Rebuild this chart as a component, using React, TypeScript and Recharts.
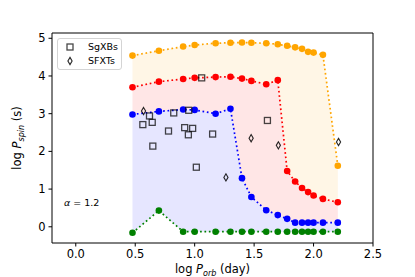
import React from "react";
import {
  ComposedChart,
  Area,
  Line,
  Scatter,
  XAxis,
  YAxis,
  ReferenceLine,
  Label,
} from "recharts";

// log of orbital period grid (days)
const logPorb = [
  0.477, 0.699, 0.903, 1.0, 1.176, 1.301, 1.398, 1.477, 1.602, 1.699, 1.778,
  1.845, 1.903, 1.954, 2.0, 2.079, 2.204,
];
const orangeSpin = [
  4.54, 4.67, 4.78, 4.82, 4.87, 4.88, 4.89, 4.88, 4.87, 4.84, 4.8, 4.76, 4.72,
  4.64, 4.62, 4.56, 1.62,
];
const redSpin = [
  3.7, 3.85, 3.92, 3.95, 3.97, 3.98, 3.93, 3.87, 3.78, 3.89, 1.48, 1.2, 1.03,
  0.92, 0.83, 0.74, 0.65,
];
const blueSpin = [
  2.98, 3.06, 3.11, 3.1, 3.0, 3.13, 1.29, 0.79, 0.44, 0.31, 0.21, 0.11, 0.11,
  0.11, 0.11, 0.11, 0.11,
];
const greenSpin = [
  -0.16, 0.43, -0.13, -0.13, -0.13, -0.13, -0.13, -0.13, -0.13, -0.13, -0.13,
  -0.13, -0.13, -0.13, -0.13, -0.13, -0.13,
];

// observed systems
const sgxbOrb = [0.564, 0.62, 0.643, 0.648, 0.78, 0.824, 0.916, 0.947, 0.95, 0.983, 1.014, 1.059, 1.151, 1.612];
const sgxbSpin = [2.71, 2.94, 2.77, 2.14, 2.54, 3.02, 2.63, 2.44, 3.09, 2.61, 1.58, 3.95, 2.46, 2.82];
const sfxtOrb = [0.57, 1.263, 1.475, 1.704, 2.21];
const sfxtSpin = [3.07, 1.31, 2.35, 2.16, 2.25];

const xTicks = [0, 0.5, 1, 1.5, 2, 2.5];
const yTicks = [0, 1, 2, 3, 4, 5];
const xDomain = [-0.2, 2.5];
const yDomain = [-0.43, 5.14];

const rows = logPorb.map((x, i) => ({
  x,
  orange: orangeSpin[i],
  red: redSpin[i],
  blue: blueSpin[i],
  green: greenSpin[i],
  bandOrange: [redSpin[i], orangeSpin[i]],
  bandRed: [blueSpin[i], redSpin[i]],
  bandBlue: [greenSpin[i], blueSpin[i]],
}));
const sgxbData = sgxbOrb.map((x, i) => ({ x, y: sgxbSpin[i] }));
const sfxtData = sfxtOrb.map((x, i) => ({ x, y: sfxtSpin[i] }));

const FONT = "DejaVu Sans";
const tickStyle = { fontSize: 11.5, fill: "#000", fontFamily: FONT };
const dotted = "1.7 2.7";

const Square = (p: any) => (
  <rect
    x={p.cx - 3}
    y={p.cy - 3}
    width={6}
    height={6}
    fill="none"
    stroke="#000"
    strokeOpacity={0.72}
    strokeWidth={1.3}
  />
);

const Diamond = (p: any) => (
  <path
    d={`M${p.cx},${p.cy - 3.6} L${p.cx + 2.1},${p.cy} L${p.cx},${p.cy + 3.6} L${p.cx - 2.1},${p.cy} Z`}
    fill="none"
    stroke="#000"
    strokeOpacity={0.85}
    strokeWidth={1.1}
  />
);

function LegendBox() {
  return (
    <div
      style={{
        position: "absolute",
        left: 57,
        top: 38,
        width: 63,
        height: 30,
        border: "1px solid #d4d4d4",
        borderRadius: 3,
        background: "rgba(255,255,255,0.8)",
        fontFamily: FONT,
        fontSize: 9.5,
        color: "#000",
      }}
    >
      <svg width={63} height={30} style={{ position: "absolute", left: 0, top: 0 }}>
        <Square cx={12} cy={8} />
        <Diamond cx={12} cy={22} />
      </svg>
      <span style={{ position: "absolute", left: 30, top: 2, lineHeight: "12px" }}>SgXBs</span>
      <span style={{ position: "absolute", left: 30, top: 16, lineHeight: "12px" }}>SFXTs</span>
    </div>
  );
}

export default function App() {
  return (
    <div style={{ position: "absolute", left: 0, top: 0, width: 415, height: 277 }}>
      <ComposedChart
        width={415}
        height={277}
        data={rows}
        margin={{ top: 33, right: 42, bottom: 0, left: 0 }}
      >
        <XAxis
          dataKey="x"
          type="number"
          domain={xDomain}
          ticks={xTicks}
          allowDataOverflow
          tickFormatter={(v: number) => v.toFixed(1)}
          tick={tickStyle}
          tickSize={3.5}
          tickMargin={3}
          height={34}
          stroke="#000"
        >
          <Label
            content={(props: any) => {
              const vb = props.viewBox;
              return (
                <text
                  x={vb.x + vb.width / 2}
                  y={273}
                  textAnchor="middle"
                  fontFamily={FONT}
                  fontSize={11.5}
                  fill="#000"
                >
                  log <tspan fontStyle="italic">P</tspan>
                  <tspan fontStyle="italic" fontSize={8} dy={2.5}>orb</tspan>
                  <tspan dy={-2.5}> (day)</tspan>
                </text>
              );
            }}
          />
        </XAxis>
        <YAxis
          type="number"
          domain={yDomain}
          ticks={yTicks}
          allowDataOverflow
          tick={tickStyle}
          tickSize={3.5}
          tickMargin={3}
          width={52}
          stroke="#000"
        >
          <Label
            content={(props: any) => {
              const vb = props.viewBox;
              const cy = vb.y + vb.height / 2;
              return (
                <text
                  x={21}
                  y={cy}
                  transform={`rotate(-90, 21, ${cy})`}
                  textAnchor="middle"
                  fontFamily={FONT}
                  fontSize={11.5}
                  fill="#000"
                >
                  log <tspan fontStyle="italic">P</tspan>
                  <tspan fontStyle="italic" fontSize={8} dy={2.5}>spin</tspan>
                  <tspan dy={-2.5}> (s)</tspan>
                </text>
              );
            }}
          />
        </YAxis>
        <ReferenceLine y={yDomain[1]} stroke="#000" ifOverflow="extendDomain" />
        <ReferenceLine x={xDomain[1]} stroke="#000" ifOverflow="extendDomain" />

        <Area type="linear" dataKey="bandOrange" stroke="none" fill="#fff6e6" fillOpacity={1} isAnimationActive={false} activeDot={false} />
        <Area type="linear" dataKey="bandRed" stroke="none" fill="#ffe6e6" fillOpacity={1} isAnimationActive={false} activeDot={false} />
        <Area type="linear" dataKey="bandBlue" stroke="none" fill="#e6e6ff" fillOpacity={1} isAnimationActive={false} activeDot={false} />

        <Line type="linear" dataKey="orange" stroke="#ffa500" strokeWidth={1.7} strokeDasharray={dotted} dot={{ r: 3.3, fill: "#ffa500", stroke: "none" }} isAnimationActive={false} />
        <Line type="linear" dataKey="red" stroke="#ff0000" strokeWidth={1.7} strokeDasharray={dotted} dot={{ r: 3.3, fill: "#ff0000", stroke: "none" }} isAnimationActive={false} />
        <Line type="linear" dataKey="blue" stroke="#0000ff" strokeWidth={1.7} strokeDasharray={dotted} dot={{ r: 3.3, fill: "#0000ff", stroke: "none" }} isAnimationActive={false} />
        <Line type="linear" dataKey="green" stroke="#008000" strokeWidth={1.7} strokeDasharray={dotted} dot={{ r: 3.3, fill: "#008000", stroke: "none" }} isAnimationActive={false} />

        <Scatter data={sgxbData} dataKey="y" shape={Square} isAnimationActive={false} />
        <Scatter data={sfxtData} dataKey="y" shape={Diamond} isAnimationActive={false} />
      </ComposedChart>
      <LegendBox />
      <span
        style={{
          position: "absolute",
          left: 64,
          top: 197,
          fontFamily: FONT,
          fontSize: 9.5,
          lineHeight: "12px",
          color: "#000",
        }}
      >
        <i>α</i> = 1.2
      </span>
    </div>
  );
}
